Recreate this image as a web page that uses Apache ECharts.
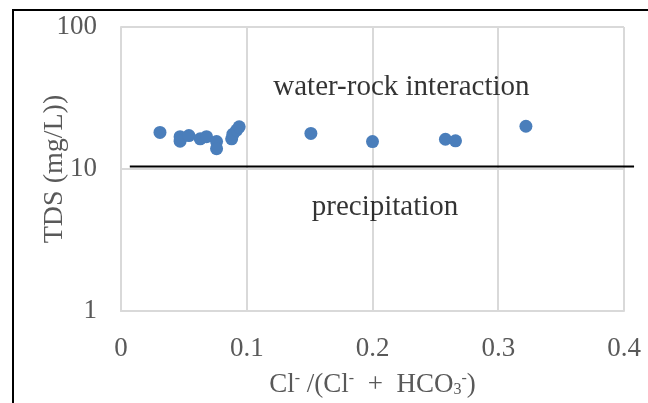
<!DOCTYPE html>
<html>
<head>
<meta charset="utf-8">
<script src="https://cdn.jsdelivr.net/npm/echarts@6/dist/echarts.min.js"></script>
<style>
  html, body { margin: 0; padding: 0; background: #fff; }
  #frame { position: absolute; left: 12px; top: 9px; width: 700px; height: 500px;
           border-left: 2px solid #000; border-top: 2px solid #000; }
  #main { position: absolute; left: 0; top: 0; width: 648px; height: 403px; }
</style>
</head>
<body>
<div id="frame"></div>
<div id="main"></div>
<script>
// samples: Cl-/(Cl- + HCO3-) ratio and TDS (mg/L)
var ratio = [0.031, 0.047, 0.047, 0.054, 0.063, 0.068, 0.076, 0.076, 0.088, 0.089, 0.092, 0.094, 0.151, 0.200, 0.258, 0.266, 0.322];
var tds   = [18.1, 16.9, 15.7, 17.2, 16.3, 16.9, 15.6, 13.9, 16.3, 17.6, 18.8, 19.8, 17.8, 15.6, 16.2, 15.8, 20.0];

// boundary line between the two fields
var boundaryX = [0.007, 0.408];
var boundaryY = 10.4;

// field labels
var fieldNames = ['water-rock interaction', 'precipitation'];
var fieldX = [0.223, 0.21];
var fieldY = [37.5, 5.4];

var points = ratio.map(function (r, i) { return [r, tds[i]]; });
var labelPts = fieldNames.map(function (n, i) { return { name: n, value: [fieldX[i], fieldY[i]] }; });

var serif = 'Liberation Serif';
var myChart = echarts.init(document.getElementById('main'));
myChart.setOption({
    animation: false,
    grid: { left: 121, top: 27, right: 24, bottom: 92 },
    xAxis: {
        type: 'value',
        min: 0, max: 0.4, interval: 0.1,
        axisLine: { show: true, lineStyle: { color: '#d9d9d9', width: 2 } },
        axisTick: { show: false },
        splitLine: { show: true, lineStyle: { color: '#d9d9d9', width: 2 } },
        axisLabel: { color: '#595959', fontFamily: serif, fontSize: 27, margin: 24 },
        name: '{a|Cl}{s|-}{a| /(Cl}{s|-}{a|  +  HCO}{b|3}{s|-}{a|)}',
        nameLocation: 'middle',
        nameGap: 60,
        nameMoveOverlap: false,
        nameTextStyle: {
            color: '#595959', fontFamily: serif, fontSize: 27,
            rich: {
                a: { color: '#595959', fontFamily: serif, fontSize: 27 },
                s: { color: '#595959', fontFamily: serif, fontSize: 16, verticalAlign: 'top' },
                b: { color: '#595959', fontFamily: serif, fontSize: 16, verticalAlign: 'bottom', padding: [6, 0, 0, 0] }
            }
        }
    },
    yAxis: {
        type: 'log',
        logBase: 10,
        min: 1, max: 100,
        axisLine: { show: true, lineStyle: { color: '#d9d9d9', width: 2 } },
        axisTick: { show: false },
        splitLine: { show: true, lineStyle: { color: '#d9d9d9', width: 2 } },
        axisLabel: { color: '#595959', fontFamily: serif, fontSize: 27, margin: 24 },
        name: 'TDS (mg/L))',
        nameLocation: 'middle',
        nameGap: 52,
        nameMoveOverlap: false,
        nameTextStyle: { color: '#595959', fontFamily: serif, fontSize: 28 }
    },
    series: [
        {
            type: 'scatter',
            data: points,
            symbolSize: 13,
            itemStyle: { color: '#4a7ebb', opacity: 1 }
        },
        {
            // boundary drawn through the axes, allowed to run past the plot edge
            type: 'custom',
            clip: false,
            data: [[boundaryX[0], boundaryY, boundaryX[1]]],
            renderItem: function (params, api) {
                var p0 = api.coord([api.value(0), api.value(1)]);
                var p1 = api.coord([api.value(2), api.value(1)]);
                return {
                    type: 'line',
                    shape: { x1: p0[0], y1: p0[1], x2: p1[0], y2: p1[1] },
                    style: { stroke: '#000', lineWidth: 2 }
                };
            }
        },
        {
            type: 'scatter',
            data: labelPts,
            symbolSize: 0,
            label: {
                show: true,
                position: 'inside',
                formatter: '{b}',
                color: '#000',
                fontFamily: serif,
                fontSize: 29
            }
        }
    ]
});
</script>
</body>
</html>
